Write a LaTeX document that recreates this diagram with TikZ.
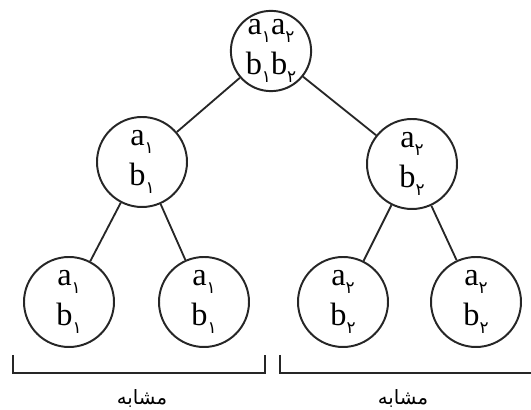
\documentclass[tikz,border=0pt]{standalone}
\usepackage{fontspec}
\setmainfont{Liberation Serif}
\newfontfamily\serifletters{Liberation Serif}
\newfontfamily\fadigits[Script=Arabic]{DejaVu Sans}
\newfontfamily\arabicfont[Script=Arabic]{DejaVu Sans}
\TeXXeTstate=1
\usetikzlibrary{positioning}

% Persian digit as a lowered index
\newcommand{\idx}[1]{\raisebox{-0.55ex}{\fontsize{12}{12}\selectfont\fadigits #1}}

\begin{document}
\begin{tikzpicture}[
	pairnode/.style={circle, draw=black!85, line width=1.4pt, minimum size=2.25cm, inner sep=0pt, align=center, font=\serifletters\fontsize{23}{28}\selectfont},
	rootnode/.style={pairnode, minimum size=2cm},
	edge/.style={draw=black!85, line width=1.3pt},
	brace/.style={draw=black!85, line width=1.4pt},
	caption/.style={font=\arabicfont\fontsize{14}{16}\selectfont}
	]
	\useasboundingbox (0,0) rectangle (13.275,10.25);
	\node[rootnode] (root) at (6.775,8.975) {a\idx{۱}a\idx{۲}\\b\idx{۱}b\idx{۲}};
	\node[pairnode] (left) at (3.55,6.2) {a\idx{۱}\\b\idx{۱}};
	\node[pairnode] (right) at (10.3,6.15) {a\idx{۲}\\b\idx{۲}};
	\node[pairnode] (ll) at (1.725,2.7) {a\idx{۱}\\b\idx{۱}};
	\node[pairnode] (lr) at (5.1,2.7) {a\idx{۱}\\b\idx{۱}};
	\node[pairnode] (rl) at (8.575,2.7) {a\idx{۲}\\b\idx{۲}};
	\node[pairnode] (rr) at (11.9,2.7) {a\idx{۲}\\b\idx{۲}};
	\draw[edge] (root) -- (left);
	\draw[edge] (root) -- (right);
	\draw[edge] (left) -- (ll);
	\draw[edge] (left) -- (lr);
	\draw[edge] (right) -- (rl);
	\draw[edge] (right) -- (rr);
	% brackets under each pair of leaves
	\draw[brace] (0.325,1.375) -- (0.325,0.925) -- (6.625,0.925) -- (6.625,1.375);
	\draw[brace] (7.0,1.375) -- (7.0,0.925) -- (13.4,0.925);
	\node[caption] (simleft) at (3.55,0.3) {\beginR مشابه\endR};
	\node[caption] (simright) at (10.075,0.3) {\beginR مشابه\endR};
\end{tikzpicture}
\end{document}
